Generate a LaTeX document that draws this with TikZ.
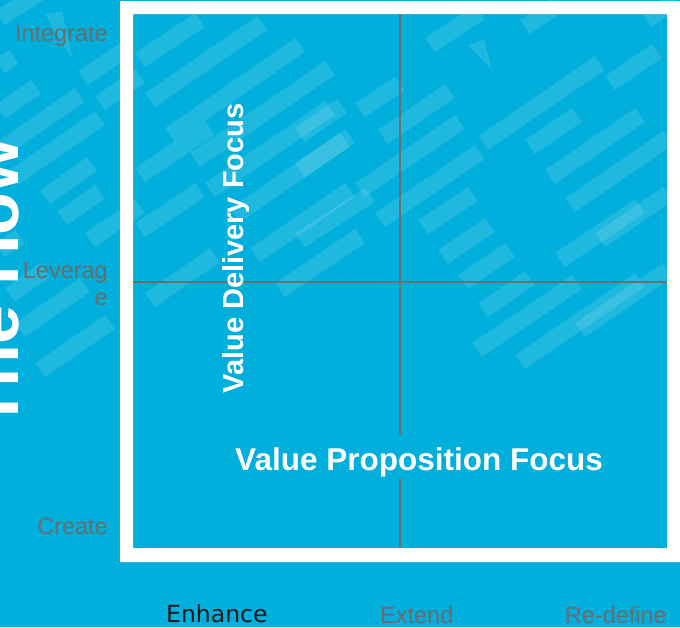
\documentclass[tikz,border=0pt]{standalone}
\usepackage{fontspec}
\setmainfont{Liberation Sans}
\newfontfamily\dejavu{DejaVu Sans}
\definecolor{bgblue}{RGB}{0,175,219}
\definecolor{gridgray}{RGB}{110,110,110}
\definecolor{labgray}{RGB}{108,108,108}
\definecolor{darktext}{RGB}{26,26,26}
\tikzset{
  stripe/.style={line width=17pt, draw=white, draw opacity=0.12, line cap=butt},
  gridline/.style={draw=gridgray, line width=2.3pt},
  axislab/.style={inner sep=0pt, text=labgray, font=\fontsize{23.5}{27}\selectfont},
  bigwhite/.style={inner sep=0pt, text=white, font=\bfseries\fontsize{#1}{#1}\selectfont},
}
\begin{document}
\begin{tikzpicture}[x=1pt,y=-1pt]
\useasboundingbox (0,0) rectangle (680,627);
\fill[bgblue] (0,0) rectangle (680,627);
% faint diagonal stripe pattern
\foreach \a/\b/\c/\d in {
  0/18/40/-8, 0/66/14/57, 0/112/36/87, 0/150/80/95, 13/178/100/118, 45/197/92/164,
  83/78/125/50, 100/103/140/76, 62/218/100/192, 90/240/140/206, 10/295/45/270,
  20/330/85/285, 40/370/110/322, 0/250/20/237,
  140/60/200/20, 150/100/262/23, 170/135/300/45, 140/175/210/128, 195/160/330/68,
  210/190/330/108, 235/215/345/140, 140/230/200/190, 255/255/350/190, 150/300/215/255,
  300/135/342/106, 300/170/350/136, 360/110/400/84, 383/137/450/91, 360/190/460/122,
  380/220/480/152, 423/227/473/194, 443/257/490/225, 463/282/510/250, 483/310/530/278,
  477/350/577/282, 520/362/640/280, 580/330/668/270, 430/45/480/12, 483/143/600/63,
  525/27/557/5, 530/147/577/115, 550/177/640/115,
  570/205/668/138, 610/83/657/51, 647/20/675/0, 300/240/370/195,
  280/290/360/236, 600/240/668/194, 560/260/640/206}
  {\draw[stripe] (\a,\b) -- (\c,\d);}
\fill[white, opacity=0.12] (45,14) -- (62,11) -- (73,60) -- cycle;
\fill[white, opacity=0.12] (468,45) -- (484,40) -- (492,70) -- cycle;
% white frame
\fill[white, even odd rule] (120,1) rectangle (680,562) (133,14) rectangle (667,548);
% quadrant lines
\coordinate (vtop) at (400,14);
\coordinate (vbot) at (400,548);
\coordinate (hleft) at (133,282);
\coordinate (hright) at (667,282);
\draw[gridline] (vtop) -- (vbot);
\draw[gridline] (hleft) -- (hright);
% axis labels
\node[axislab, anchor=base east] (integrate) at (108,41.5) {Integrate};
\node[axislab, anchor=base east] (leverage1) at (108,278) {Leverag};
\node[axislab, anchor=base east] (leverage2) at (108,305) {e};
\node[axislab, anchor=base east] (create) at (108,534) {Create};
\node[axislab, anchor=base west, text=darktext, font=\dejavu\fontsize{23.5}{27}\selectfont] (enhance) at (166,622) {Enhance};
\node[axislab, anchor=base west] (extend) at (380,623) {Extend};
\node[axislab, anchor=base east] (redefine) at (667,623) {Re-define};
% titles
\node[bigwhite=70, rotate=90, anchor=base] (thehow) at (18,284) {The How};
\node[bigwhite=29, rotate=90, anchor=base] (vdf) at (243,248.5) {Value Delivery Focus};
\node[bigwhite=31.5, anchor=base, fill=bgblue, inner xsep=4pt, text height=35pt, text depth=8pt] (vpf) at (419,470) {Value Proposition Focus};
\end{tikzpicture}
\end{document}
